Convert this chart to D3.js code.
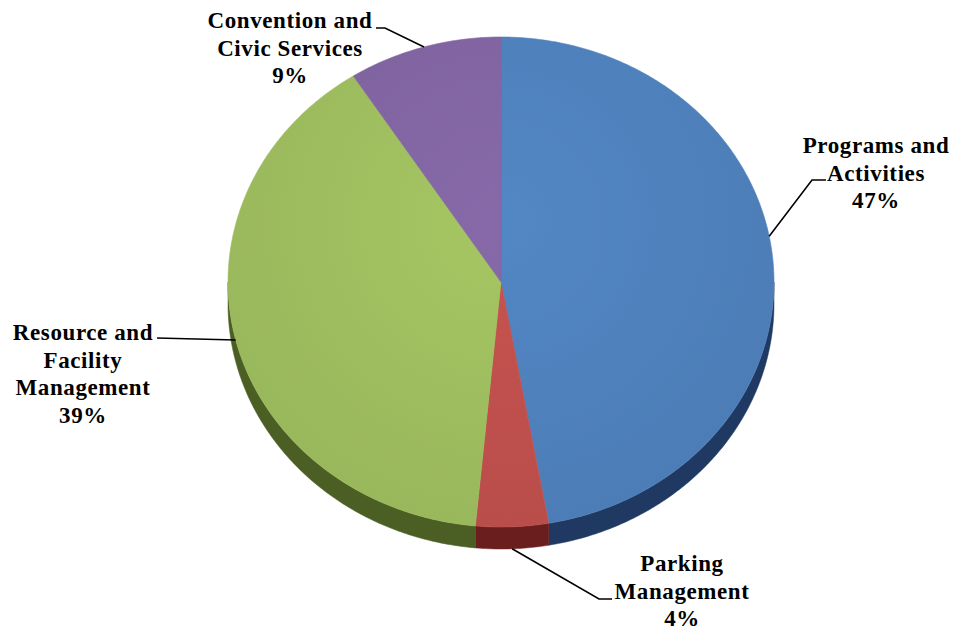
<!DOCTYPE html>
<html><head><meta charset="utf-8">
<script src="https://cdn.jsdelivr.net/npm/d3@7"></script>
<style>body{margin:0;background:#fff}svg{display:block}</style>
</head><body>
<svg id="chart" width="953" height="630"></svg>
<script>
// ---- data ----
const categories = ["Programs and Activities", "Parking Management", "Resource and Facility Management", "Convention and Civic Services"];
const values = [47.2, 4.3, 39.4, 9.1];
const labelLines = [["Programs and", "Activities"], ["Parking", "Management"], ["Resource and", "Facility", "Management"], ["Convention and", "Civic Services"]];

// ---- styles / layout ----
const topColors  = ["#4F81BD", "#C0504D", "#9FBE5F", "#8165A2"];
const sideColors = ["#1F3963", "#6A1F1E", "#4B5F24", "#3F2F55"];
const W = 953, H = 630;
const cx = 501, cy = 282, rx = 273, ry = 245, depth = 22;
const labelLayout = [
  {x: 876, y: 145, elbow: [812, 180], end: [826, 180], onSide: false, anchorShift: -0.1},
  {x: 682, y: 563, elbow: [599, 599], end: [612, 599], onSide: true,  anchorShift: 0},
  {x: 83,  y: 332, elbow: [157, 338], end: [157, 338], onSide: false, anchorShift: 0},
  {x: 290, y: 20,  elbow: [385, 28],  end: [376, 28],  onSide: false, anchorShift: 0}
];
const fontSize = 23, lineH = 27.5;

const svg = d3.select("#chart");
const pie = d3.pie().sort(null).value(d => d).startAngle(0).endAngle(2 * Math.PI);
const arcs = pie(values);
const total = d3.sum(values);

const ex = a => cx + rx * Math.sin(a);
const ey = (a, dy = 0) => cy - ry * Math.cos(a) + dy;
const line = d3.line();

function samples(a0, a1) {
  const n = Math.max(2, Math.ceil(Math.abs(a1 - a0) / 0.01));
  return d3.range(n + 1).map(i => a0 + (a1 - a0) * i / n);
}

// side walls (visible from PI/2 to 3PI/2)
const visLo = Math.PI / 2, visHi = 3 * Math.PI / 2;
const gSide = svg.append("g");
arcs.forEach((d, i) => {
  const a0 = Math.max(d.startAngle, visLo), a1 = Math.min(d.endAngle, visHi);
  if (a1 <= a0) return;
  const topPts = samples(a0, a1).map(a => [ex(a), ey(a)]);
  const botPts = samples(a1, a0).map(a => [ex(a), ey(a, depth)]);
  gSide.append("path")
    .attr("d", line(topPts.concat(botPts)) + "Z")
    .attr("fill", sideColors[i])
    .attr("stroke", sideColors[i]).attr("stroke-width", 0.5);
});

// top faces
const defs = svg.append("defs");
topColors.forEach((c, i) => {
  const g = defs.append("radialGradient").attr("id", "g" + i)
    .attr("gradientUnits", "userSpaceOnUse")
    .attr("cx", cx).attr("cy", cy - 60).attr("r", 330);
  g.append("stop").attr("offset", "0%").attr("stop-color", d3.color(c).brighter(0.12));
  g.append("stop").attr("offset", "100%").attr("stop-color", d3.color(c).darker(0.12));
});
const gTop = svg.append("g");
arcs.forEach((d, i) => {
  const pts = [[cx, cy]].concat(samples(d.startAngle, d.endAngle).map(a => [ex(a), ey(a)]));
  gTop.append("path")
    .attr("d", line(pts) + "Z")
    .attr("fill", "url(#g" + i + ")")
    .attr("stroke", topColors[i]).attr("stroke-width", 0.6);
});

// labels + leaders
const gLab = svg.append("g");
arcs.forEach((d, i) => {
  const L = labelLayout[i];
  const mid = (d.startAngle + d.endAngle) / 2 + L.anchorShift;
  const p0 = [ex(mid), ey(mid, L.onSide ? depth : 0)];
  gLab.append("path")
    .attr("d", line([p0, L.elbow, L.end]))
    .attr("fill", "none").attr("stroke", "#000").attr("stroke-width", 1.6);
  const pct = Math.round(d.value / total * 100) + "%";
  const lines = labelLines[i].concat([pct]);
  const t = gLab.append("text")
    .attr("text-anchor", "middle")
    .attr("font-family", "'Liberation Serif', 'Times New Roman', serif")
    .attr("font-weight", "bold").attr("font-size", fontSize)
    .attr("letter-spacing", "0.6px")
    .attr("fill", "#000");
  lines.forEach((s, k) => {
    t.append("tspan").attr("x", L.x).attr("y", L.y + k * lineH)
      .attr("dy", "0.35em").text(s);
  });
});
</script>
</body></html>
